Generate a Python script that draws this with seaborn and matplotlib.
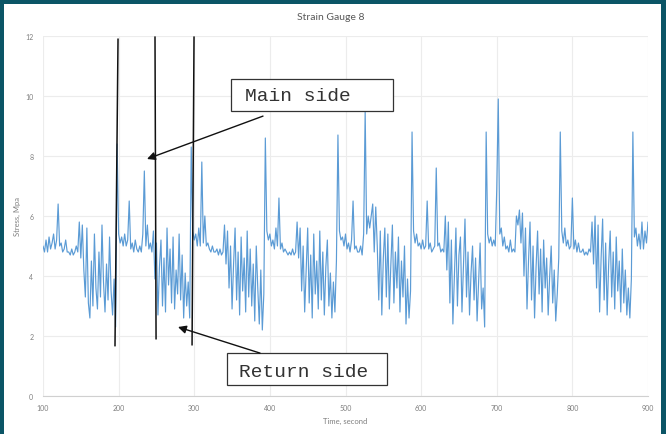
import numpy as np
import pandas as pd
import matplotlib
matplotlib.use("Agg")
import matplotlib.pyplot as plt
from matplotlib.patches import Rectangle
import seaborn as sns

# Stress record of strain gauge 8, sampled every 2 s from t = 100 s to 900 s
t_start, t_end, t_step = 100, 900, 2
stress_mpa = [
    # 100-146 s
    5.0, 4.8, 5.2, 4.8, 5.3, 4.9, 5.1, 5.4, 4.9, 5.2, 6.4, 5.0, 5.1, 4.8, 4.9, 5.2, 4.8, 4.8, 4.7, 4.9,
    4.7, 4.8, 5.0, 4.8,
    # 148-196 s
    5.8, 4.6, 5.7, 4.2, 3.3, 5.6, 3.1, 2.6, 4.5, 3.0, 5.4, 3.6, 2.9, 4.8, 3.3, 5.7, 3.8, 2.8, 4.4, 3.2,
    5.3, 3.5, 2.7, 3.9, 2.3,
    8.4,
    # 200-244 s
    5.4, 5.1, 5.3, 5.0, 5.4, 5.0, 5.2, 6.5, 4.9, 5.1, 4.8, 5.2, 4.9, 4.8, 5.0, 4.8, 5.4, 7.5, 5.0, 5.7,
    4.9, 5.1, 4.8,
    # 246-294 s
    5.5, 3.9, 5.1, 2.7, 4.3, 5.2, 3.0, 4.6, 2.8, 5.6, 3.7, 4.9, 3.1, 5.3, 2.9, 4.2, 3.4, 5.4, 3.2, 4.7,
    2.6, 4.1, 3.0, 3.8, 2.6,
    8.3,
    # 298-338 s
    5.5, 5.2, 5.4, 5.0, 5.6, 5.0, 7.8, 5.1, 6.0, 5.0, 5.1, 4.9, 4.8, 5.0, 4.8, 4.8, 4.9, 4.7, 4.9, 4.7,
    4.8,
    # 340-392 s
    5.7, 4.4, 5.5, 3.6, 5.0, 2.9, 4.4, 5.6, 3.2, 4.8, 2.7, 5.3, 3.5, 4.6, 2.8, 5.5, 3.3, 4.9, 3.0, 4.4,
    2.5, 5.0, 3.6, 2.4, 4.2, 2.2, 3.4,
    8.6,
    # 396-434 s
    5.5, 5.2, 5.4, 5.0, 5.2, 4.9, 5.6, 5.0, 6.6, 4.9, 5.1, 4.8, 4.9, 4.8, 4.7, 4.8, 4.7, 4.9, 4.7, 4.8,
    # 436-488 s
    5.8, 4.6, 5.6, 3.5, 5.0, 2.8, 4.2, 5.6, 3.1, 4.7, 2.6, 5.4, 3.4, 4.5, 2.9, 5.5, 3.2, 4.8, 2.7, 4.3,
    5.2, 3.0, 4.1, 2.6, 3.8, 2.8, 4.5,
    8.7,
    # 492-534 s
    5.5, 5.2, 5.3, 5.0, 5.4, 4.9, 5.1, 4.8, 5.2, 6.5, 4.9, 5.0, 4.8, 4.8, 5.0, 4.7, 5.4, 9.5, 5.4, 6.0,
    5.6, 6.0,
    # 536-586 s
    6.4, 4.8, 6.3, 5.0, 3.2, 5.5, 2.7, 4.6, 5.6, 3.3, 5.4, 2.9, 4.4, 5.7, 3.1, 4.8, 3.6, 5.3, 2.8, 4.5,
    3.3, 5.0, 2.4, 3.9, 2.6, 3.5,
    8.8,
    # 590-630 s
    5.5, 5.1, 5.4, 5.0, 5.1, 4.9, 5.2, 4.9, 5.0, 6.5, 4.9, 5.1, 4.8, 4.9, 5.0, 7.6, 5.0, 5.1, 4.8, 4.9,
    4.8,
    # 632-684 s
    6.0, 4.2, 5.8, 3.1, 5.2, 2.4, 4.0, 5.6, 3.0, 4.7, 5.3, 2.8, 4.4, 5.9, 3.3, 4.8, 2.7, 4.1, 5.0, 3.2,
    4.6, 2.5, 3.8, 5.1, 2.9, 3.6, 2.3,
    8.8,
    # 688-730 s
    5.4, 5.1, 5.3, 5.0, 5.2, 5.0, 6.9, 9.9, 5.4, 5.6, 5.0, 5.3, 4.9, 5.0, 4.8, 5.2, 4.8, 4.9, 4.8, 6.0,
    5.7, 6.2,
    # 732-782 s
    5.1, 6.1, 4.0, 5.6, 2.9, 4.5, 5.8, 3.2, 5.0, 2.6, 4.3, 5.5, 3.4, 4.9, 2.8, 5.2, 3.6, 4.6, 2.7, 4.0,
    5.0, 3.1, 4.2, 2.5, 3.4, 4.6,
    8.8,
    # 786-824 s
    5.5, 5.1, 5.6, 5.0, 5.2, 4.9, 5.0, 6.6, 4.9, 5.2, 4.8, 5.1, 4.8, 4.8, 4.9, 4.7, 4.8, 4.7, 4.9, 4.8,
    # 826-878 s
    5.8, 4.4, 6.0, 3.6, 5.7, 2.8, 4.6, 5.9, 3.2, 5.1, 2.7, 4.4, 5.5, 3.3, 4.8, 2.9, 5.3, 3.5, 4.5, 2.8,
    4.9, 3.1, 4.2, 2.7, 3.6, 2.6, 3.9,
    8.8,
    # 882-900 s
    5.3, 5.6, 5.0, 5.4, 4.9, 5.8, 4.9, 5.5, 5.1, 5.8,
]
time_s = np.arange(t_start, t_end + 1, t_step)

x_ticks = [100, 200, 300, 400, 500, 600, 700, 800, 900]
y_ticks = [0, 2, 4, 6, 8, 10, 12]

# Hand-drawn markers separating the passes: (t_top, y_top, t_bottom, y_bottom)
pass_dividers = [
    (199.2, 11.90, 195.2, 1.67),
    (248.1, 11.97, 249.5, 1.90),
    (299.7, 11.97, 297.1, 1.70),
]
# Callouts: label, box (t0, y0, t1, y1), text anchor (t, y), arrow tail (t, y), arrow head (t, y)
callouts = [
    ("Main side", (348.6, 9.50, 562.8, 10.57), (367.1, 10.03), (390.9, 9.33), (237.5, 7.9)),
    ("Return side", (343.3, 0.37, 554.9, 1.43), (359.2, 0.83), (387.0, 1.43), (278.5, 2.3)),
]

df = pd.DataFrame({"Time, second": time_s, "Stress, Mpa": stress_mpa})

sns.set_style("white")
plt.rcParams["font.family"] = ["Lato", "DejaVu Sans"]

W, H = 666, 435
fig = plt.figure(figsize=(W / 100, H / 100), dpi=100, facecolor="#0b5566")
fig.add_artist(Rectangle((4 / W, 0), (661 - 4) / W, (H - 5) / H,
                         transform=fig.transFigure, facecolor="white",
                         edgecolor="none", zorder=-10))

ax = fig.add_axes([43 / W, 38 / H, 605 / W, 360 / H])
ax.set_facecolor("white")
ax.set_zorder(1)

sns.lineplot(data=df, x="Time, second", y="Stress, Mpa", ax=ax,
             color="#5b9bd5", linewidth=0.85, zorder=3)

ax.set_xlim(t_start, t_end)
ax.set_ylim(0, 12)
ax.set_xticks(x_ticks)
ax.set_yticks(y_ticks)
ax.grid(True, color="#ececec", linewidth=0.8, zorder=0)
for side in ["top", "right", "left"]:
    ax.spines[side].set_visible(False)
ax.spines["bottom"].set_color("#d0d0d0")
ax.spines["bottom"].set_linewidth(0.8)
ax.tick_params(axis="both", length=0, labelsize=5, labelcolor="#7f7f7f")
ax.tick_params(axis="x", pad=6)
ax.tick_params(axis="y", pad=7)
ax.set_xlabel("Time, second", fontsize=5.5, color="#7f7f7f", labelpad=4)
ax.set_ylabel("Stress, Mpa", fontsize=5.5, color="#7f7f7f", labelpad=3)

fig.text(0.497, 1 - 18 / H, "Strain Gauge 8", ha="center", va="center",
         fontsize=7.5, color="#595959")

for t0, y0, t1, y1 in pass_dividers:
    ax.plot([t0, t1], [y0, y1], color="#111111", linewidth=1.1, zorder=6,
            clip_on=False)

for label, (bx0, by0, bx1, by1), (tx, ty), tail, head in callouts:
    ax.add_patch(Rectangle((bx0, by0), bx1 - bx0, by1 - by0, facecolor="white",
                           edgecolor="#333333", linewidth=0.9, zorder=7,
                           clip_on=False))
    ax.text(tx, ty, label, ha="left", va="center", fontsize=14,
            family="Liberation Mono", color="#333333", zorder=8, clip_on=False)
    ax.annotate("", xy=head, xytext=tail,
                arrowprops=dict(arrowstyle="-|>", color="#111111", lw=1.0,
                                mutation_scale=12, shrinkA=0, shrinkB=0),
                zorder=8, annotation_clip=False)

fig.savefig("out.png", dpi=100, facecolor=fig.get_facecolor())
